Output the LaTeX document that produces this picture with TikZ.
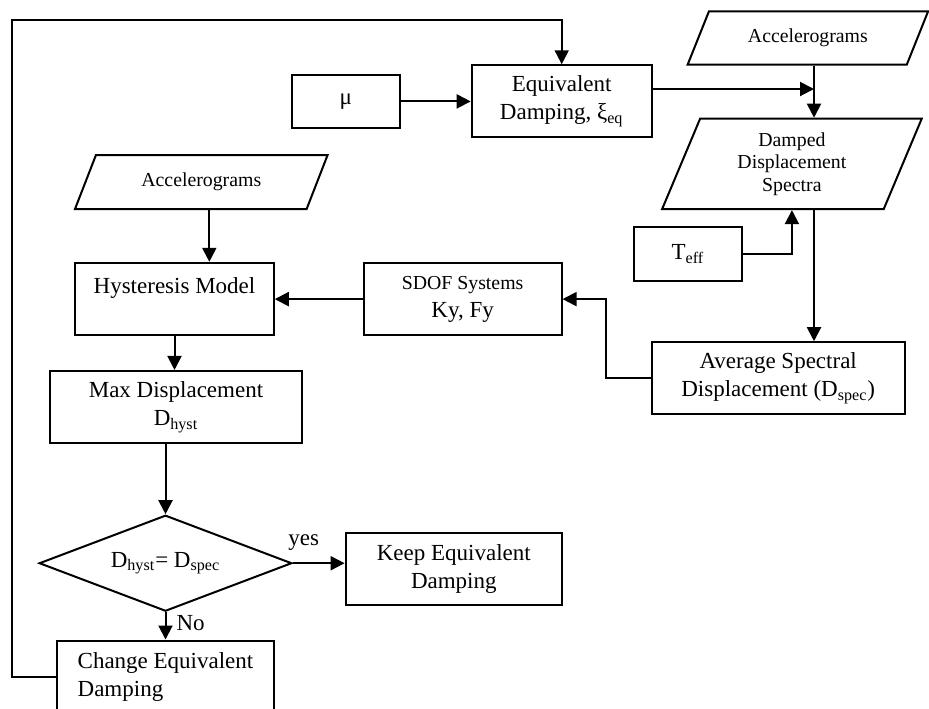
\documentclass[tikz,border=0pt]{standalone}
\usepackage{fontspec}
\setmainfont{Liberation Serif}
\usetikzlibrary{arrows.meta,shapes.geometric}

\begin{document}
\begin{tikzpicture}[x=0.5pt, y=-0.5pt, every node/.style={font=\fontsize{11.5}{14}\selectfont},
  b/.style={draw, line width=1pt, align=center, inner sep=2pt},
  p/.style={draw, line width=1pt, trapezium, trapezium stretches body, align=center, inner sep=1pt, font=\fontsize{9.9}{11.3}\selectfont},
  d/.style={draw, line width=1pt, diamond, aspect=2.63, inner sep=0pt},
  a/.style={-{Triangle[length=7pt,width=7pt]}, line width=1pt},
  l/.style={inner sep=1pt}]
\useasboundingbox (0,0) rectangle (929,708);
\node[p, trapezium left angle=46, trapezium right angle=134, minimum width=120.2pt, minimum height=26.6pt] (accR) at (807.9,37.9) {Accelerograms};
\node[b, minimum width=90pt, minimum height=35.75pt] (eq) at (561.7,101) {Equivalent\\Damping, ξ\textsubscript{eq}};
\node[b, minimum width=54.25pt, minimum height=26.85pt] (mu) at (345.8,101.4) {μ};
\node[p, trapezium left angle=60.5, trapezium right angle=119.5, minimum width=129.8pt, minimum height=45.2pt] (dds) at (791.9,163.9) {Damped\\Displacement\\Spectra};
\node[b, minimum width=53.85pt, minimum height=27.15pt] (teff) at (687.9,254.2) {T\textsubscript{eff}};
\node[p, trapezium left angle=46.4, trapezium right angle=133.6, minimum width=126.3pt, minimum height=27pt] (accL) at (201.3,182) {Accelerograms};
\node[b, minimum width=99.25pt, minimum height=36.3pt] (hyst) at (174.5,299.1) {Hysteresis Model\\\mbox{}};
\node[b, minimum width=98.95pt, minimum height=36.3pt] (sdof) at (462.6,299.1) {{\fontsize{9.9}{11.3}\selectfont SDOF Systems}\\Ky, Fy};
\node[b, minimum width=126.45pt, minimum height=36.1pt] (avg) at (778.2,378.3) {Average Spectral\\Displacement (D\textsubscript{spec})};
\node[b, minimum width=126.25pt, minimum height=36.25pt] (maxd) at (176,407.2) {Max Displacement\\D\textsubscript{hyst}};
\node[d, minimum width=126.3pt, minimum height=48pt] (dec) at (165.5,563.2) {D\textsubscript{hyst}= D\textsubscript{spec}};
\node[b, minimum width=108.2pt, minimum height=35.85pt] (keep) at (453.8,568.9) {Keep Equivalent\\Damping};
\node[b, align=left, minimum width=108.35pt, minimum height=36pt] (chg) at (165.5,676.5) {Change Equivalent\\Damping};
\coordinate (lp) at (12,20);
\coordinate (j1) at (814,89);
\draw[a] (chg.west) -| (lp) -| (eq.north);
\draw[a] (mu) -- (mu -| eq.west);
\draw[a] (eq.east |- j1) -- (j1);
\draw[a] (accR.south -| j1) -- (dds.north -| j1);
\draw[a] (teff.east) -| (dds.south);
\draw[a] (dds.south -| j1) -- (avg.north -| j1);
\draw[a] (avg.west) -- ++(-44.7,0) |- (sdof.east);
\draw[a] (sdof) -- (hyst);
\draw[a] ([xshift=4pt]accL.south) -- ([xshift=4pt]accL.south |- hyst.north);
\draw[a] (hyst.south) -- (hyst.south |- maxd.north);
\draw[a] (maxd.south -| dec.north) -- (dec.north);
\draw[a] (dec.east) -- node[l, above, pos=0.21, yshift=5pt] (yes) {yes} (dec.east -| keep.west);
\draw[a] (dec.south) -- node[l, right, pos=0.4, xshift=4pt] (no) {No} (dec.south |- chg.north);
\end{tikzpicture}
\end{document}
